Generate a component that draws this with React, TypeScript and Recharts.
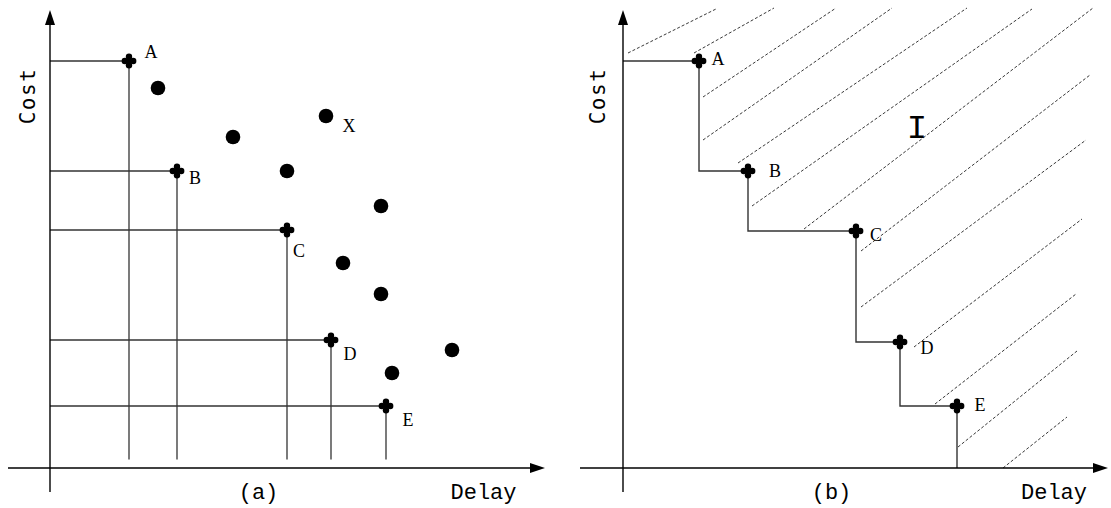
import React from "react"
import { ComposedChart, XAxis, YAxis, Scatter, Line, ReferenceLine, ReferenceDot } from "recharts"

// no ticks in the original, so units are arbitrary (origin = axis crossing)
const frontierA = [
  { name: "A", x: 7.9, y: 40.7 },
  { name: "B", x: 12.7, y: 29.7 },
  { name: "C", x: 23.7, y: 23.8 },
  { name: "D", x: 28.1, y: 12.8 },
  { name: "E", x: 33.6, y: 6.2 },
]

const otherPointsA = [
  { name: "", x: 10.8, y: 38.0 },
  { name: "", x: 18.3, y: 33.1 },
  { name: "", x: 23.7, y: 29.7 },
  { name: "X", x: 27.6, y: 35.2 },
  { name: "", x: 33.1, y: 26.2 },
  { name: "", x: 29.3, y: 20.5 },
  { name: "", x: 33.1, y: 17.4 },
  { name: "", x: 40.2, y: 11.8 },
  { name: "", x: 34.2, y: 9.5 },
]

const frontierB = [
  { name: "A", x: 7.6, y: 40.7 },
  { name: "B", x: 12.5, y: 29.7 },
  { name: "C", x: 23.3, y: 23.7 },
  { name: "D", x: 27.7, y: 12.6 },
  { name: "E", x: 33.4, y: 6.2 },
]

// dashed hatching of the infeasible region I, start -> end
const hatchFrom = [
  [0.5, 41.5], [7.1, 41.5], [8.0, 37.1], [8.0, 32.8], [11.5, 30.5], [12.9, 26.2], [18.1, 23.9],
  [23.8, 21.7], [23.8, 16.1], [29.1, 12.1], [31.2, 6.4], [33.5, 2.1], [38.0, 0],
]
const hatchTo = [
  [9.3, 45.9], [15.1, 46.0], [21.3, 46.0], [26.9, 46.0], [34.4, 46.0], [40.9, 45.9], [47.0, 46.0],
  [46.7, 39.3], [46.3, 32.8], [45.9, 24.9], [45.3, 17.4], [45.4, 11.7], [44.4, 5.1],
]

const panelTitles = ["(a)", "(b)"]
const xTitle = "Delay"
const yTitle = "Cost"
const regionLabel = "I"

const SERIF = "'Liberation Serif', 'DejaVu Serif', serif"
const MONO = "'Liberation Mono', 'Courier New', monospace"
const INK = "#000"
const GUIDE = "#333"

// label nudges in px (glyph center relative to the marker)
const nudgeA: Record<string, [number, number]> = {
  A: [22, -9], B: [18, 7], C: [12, 21], D: [19, 14], E: [22, 14], X: [23, 10],
}
const nudgeB: Record<string, [number, number]> = {
  A: [19, -2], B: [27, 0], C: [20, 4], D: [27, 6], E: [23, -1],
}

const arrow = (props: any) => {
  const { x1, y1, x2, y2 } = props
  const dx = x2 - x1
  const dy = y2 - y1
  const len = Math.hypot(dx, dy)
  const ux = dx / len
  const uy = dy / len
  const L = 15
  const H = 5
  const bx = x2 - ux * L
  const by = y2 - uy * L
  const pts = `${x2},${y2} ${bx - uy * H},${by + ux * H} ${bx + uy * H},${by - ux * H}`
  return (
    <g>
      <line x1={x1} y1={y1} x2={bx} y2={by} stroke={INK} strokeWidth={1.4} />
      <polygon points={pts} fill={INK} />
    </g>
  )
}

const label = (text: string, nx: number, ny: number, cx: number, cy: number) =>
  text ? (
    <text x={cx + nx} y={cy + ny + 6} textAnchor="middle" fontFamily={SERIF} fontSize={18} fill={INK}>
      {text}
    </text>
  ) : null

const crossShape = (nudge: Record<string, [number, number]>) => (props: any) => {
  const { cx, cy, payload } = props
  const [nx, ny] = nudge[payload.name] || [0, 0]
  const d = 4.2
  return (
    <g>
      <g fill={INK}>
        <rect x={cx - d} y={cy - 2} width={2 * d} height={4} />
        <rect x={cx - 2} y={cy - d} width={4} height={2 * d} />
        <circle cx={cx - d} cy={cy} r={3.2} />
        <circle cx={cx + d} cy={cy} r={3.2} />
        <circle cx={cx} cy={cy - d} r={3.2} />
        <circle cx={cx} cy={cy + d} r={3.2} />
      </g>
      {label(payload.name, nx, ny, cx, cy)}
    </g>
  )
}

const dotShape = (props: any) => {
  const { cx, cy, payload } = props
  const [nx, ny] = nudgeA[payload.name] || [0, 0]
  return (
    <g>
      <circle cx={cx} cy={cy} r={7.3} fill={INK} />
      {label(payload.name, nx, ny, cx, cy)}
    </g>
  )
}

const textAt = (text: string, size: number, family: string, spacing = 0, rotate = false) => (props: any) => {
  const { cx, cy } = props
  return (
    <text
      x={cx}
      y={cy}
      textAnchor="middle"
      fontFamily={family}
      fontSize={size}
      fill={INK}
      letterSpacing={spacing}
      transform={rotate ? `rotate(-90 ${cx} ${cy})` : undefined}
    >
      {text}
    </text>
  )
}

const Y_DOMAIN: [number, number] = [-4, 46.8]
const H = 508

function axes(xStart: number, xEnd: number, title: string, titleX: number, delayX: number, costX: number) {
  return [
    <ReferenceLine key="xa" segment={[{ x: xStart, y: 0 }, { x: xEnd, y: 0 }]} shape={arrow} ifOverflow="visible" />,
    <ReferenceLine key="ya" segment={[{ x: 0, y: -2.4 }, { x: 0, y: 45.8 }]} shape={arrow} ifOverflow="visible" />,
    <ReferenceDot key="t" x={titleX} y={-3.1} r={0} shape={textAt(title, 22, MONO)} ifOverflow="visible" />,
    <ReferenceDot key="dl" x={delayX} y={-3.1} r={0} shape={textAt(xTitle, 22, MONO)} ifOverflow="visible" />,
    <ReferenceDot
      key="cl"
      x={costX}
      y={37.2}
      r={0}
      shape={textAt(yTitle, 21, "'DejaVu Sans Mono', monospace", 1.5, true)}
      ifOverflow="visible"
    />,
  ]
}

function PanelA() {
  return (
    <ComposedChart width={560} height={H} margin={{ top: 0, right: 0, bottom: 0, left: 0 }}>
      <XAxis type="number" dataKey="x" domain={[-5, 51]} allowDataOverflow hide />
      <YAxis type="number" dataKey="y" domain={Y_DOMAIN} allowDataOverflow hide />
      {frontierA.map((p) => (
        <ReferenceLine
          key={"h" + p.name}
          segment={[{ x: 0, y: p.y }, { x: p.x, y: p.y }]}
          stroke={GUIDE}
          strokeWidth={1.3}
        />
      ))}
      {frontierA.map((p) => (
        <ReferenceLine
          key={"v" + p.name}
          segment={[{ x: p.x, y: p.y }, { x: p.x, y: 0.85 }]}
          stroke={GUIDE}
          strokeWidth={1.3}
        />
      ))}
      {axes(-4.2, 49.5, panelTitles[0], 20.85, 43.35, -1.5)}
      <Scatter data={otherPointsA} dataKey="y" shape={dotShape} isAnimationActive={false} />
      <Scatter data={frontierA} dataKey="y" shape={crossShape(nudgeA)} isAnimationActive={false} />
    </ComposedChart>
  )
}

function PanelB() {
  const first = frontierB[0]
  const last = frontierB[frontierB.length - 1]
  const stairs = [{ x: 0, y: first.y }, ...frontierB, { x: last.x, y: 0 }]
  return (
    <ComposedChart width={551} height={H} margin={{ top: 0, right: 0, bottom: 0, left: 0 }}>
      <XAxis type="number" dataKey="x" domain={[-6.3, 48.8]} allowDataOverflow hide />
      <YAxis type="number" dataKey="y" domain={Y_DOMAIN} allowDataOverflow hide />
      {hatchFrom.map((s, i) => (
        <ReferenceLine
          key={"hatch" + i}
          segment={[{ x: s[0], y: s[1] }, { x: hatchTo[i][0], y: hatchTo[i][1] }]}
          stroke="#222"
          strokeWidth={0.9}
          strokeDasharray="3 2"
          ifOverflow="visible"
        />
      ))}
      <Line
        data={stairs}
        dataKey="y"
        type="stepBefore"
        stroke={GUIDE}
        strokeWidth={1.4}
        dot={false}
        activeDot={false}
        isAnimationActive={false}
      />
      {axes(-4.3, 48.5, panelTitles[1], 20.85, 43.1, -1.8)}
      <ReferenceDot x={29.4} y={33.0} r={0} shape={textAt(regionLabel, 34, MONO)} />
      <Scatter data={frontierB} dataKey="y" shape={crossShape(nudgeB)} isAnimationActive={false} />
    </ComposedChart>
  )
}

export default function App() {
  return (
    <div style={{ position: "absolute", left: 0, top: 0, width: 1111, height: 508, display: "flex", background: "#fff" }}>
      <PanelA />
      <PanelB />
    </div>
  )
}
